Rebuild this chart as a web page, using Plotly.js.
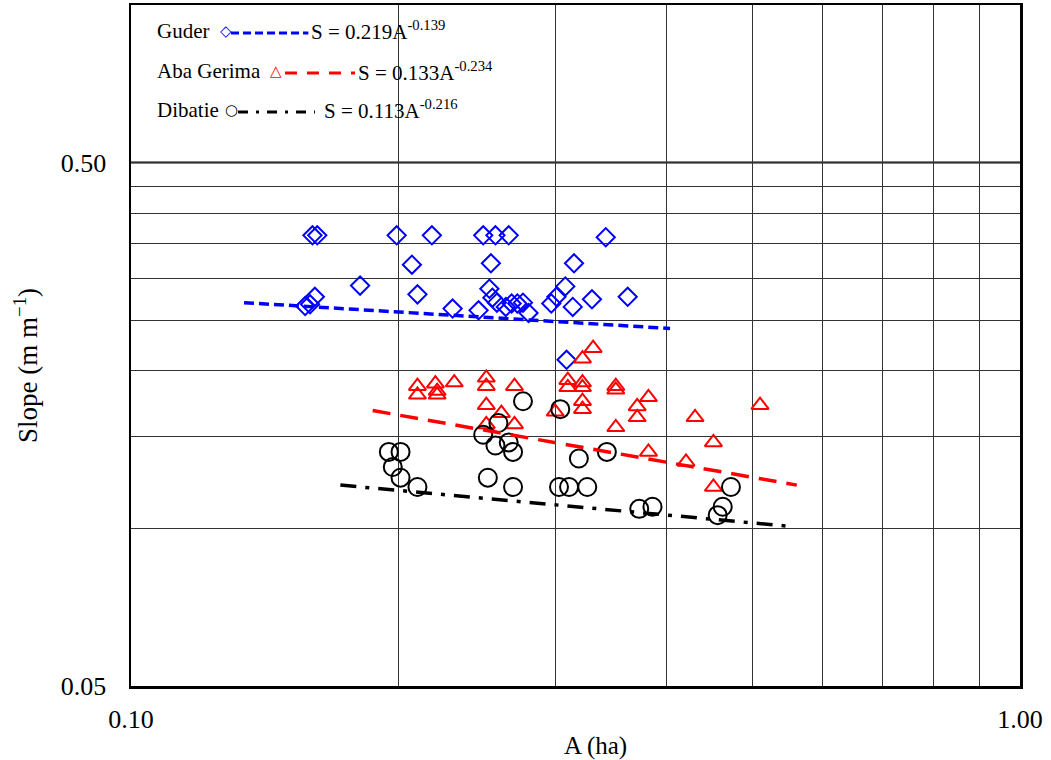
<!DOCTYPE html>
<html>
<head>
<meta charset="utf-8">
<script src="https://cdn.plot.ly/plotly-3.0.1.min.js"></script>
<style>html,body{margin:0;padding:0;background:#fff;}#chart{width:1051px;height:760px;}</style>
</head>
<body>
<div id="chart"></div>
<script>
// ---- Data ----
const guderA = [0.157,0.159,0.161,0.160,0.162,0.181,0.199,0.207,0.210,0.218,0.230,0.246,0.249,0.254,0.253,0.257,0.255,0.258,0.264,0.266,0.268,0.272,0.276,0.280,0.297,0.301,0.308,0.314,0.315,0.330,0.342,0.362,0.309];
const guderS = [0.266,0.268,0.277,0.363,0.363,0.291,0.363,0.319,0.280,0.363,0.263,0.261,0.363,0.321,0.287,0.363,0.276,0.270,0.265,0.363,0.269,0.269,0.270,0.258,0.269,0.277,0.290,0.265,0.321,0.274,0.360,0.277,0.210];

const abaA = [0.210,0.210,0.220,0.221,0.221,0.231,0.251,0.251,0.251,0.261,0.251,0.270,0.270,0.300,0.310,0.310,0.322,0.331,0.322,0.322,0.322,0.322,0.351,0.351,0.351,0.371,0.371,0.382,0.382,0.431,0.452,0.421,0.452,0.510];
const abaS = [0.187,0.180,0.189,0.183,0.180,0.190,0.194,0.187,0.172,0.166,0.158,0.187,0.158,0.167,0.192,0.186,0.211,0.221,0.190,0.186,0.175,0.169,0.187,0.184,0.156,0.171,0.163,0.178,0.140,0.163,0.146,0.134,0.120,0.172];

const dibA = [0.195,0.201,0.197,0.201,0.210,0.252,0.249,0.257,0.259,0.266,0.269,0.269,0.276,0.304,0.303,0.311,0.326,0.319,0.343,0.373,0.386,0.473,0.463,0.457];
const dibS = [0.140,0.140,0.131,0.125,0.120,0.125,0.151,0.144,0.159,0.146,0.140,0.120,0.175,0.169,0.120,0.120,0.120,0.136,0.140,0.109,0.110,0.120,0.110,0.106];

// Fitted trend lines (end points)
const guderFitA = [0.134, 0.404];
const guderFitS = [0.270, 0.241];
const abaFitA = [0.187, 0.561];
const abaFitS = [0.168, 0.121];
const dibFitA = [0.172, 0.548];
const dibFitS = [0.121, 0.101];

const seriesNames = ['Guder', 'Aba Gerima', 'Dibatie'];
const equations = ['S = 0.219A<sup>-0.139</sup>', 'S = 0.133A<sup>-0.234</sup>', 'S = 0.113A<sup>-0.216</sup>'];

const xTickVals = [0.1, 1.0];
const xTickText = ['0.10', '1.00'];
const xGridVals = [0.2,0.3,0.4,0.5,0.6,0.7,0.8,0.9];
const yTickVals = [0.05, 0.5];
const yTickText = ['0.05', '0.50'];
const yGridVals = [0.1,0.15,0.2,0.25,0.3,0.35,0.4,0.45];
const xTitle = 'A (ha)';
const yTitle = 'Slope (m m<sup>\u22121</sup>)';

// ---- Styles ----
const BLUE = '#0000FF', RED = '#FF0000', BLACK = '#000000';
const FONT = 'Liberation Serif, Times New Roman, serif';

const traces = [
  {x: guderA, y: guderS, type: 'scatter', mode: 'markers', name: seriesNames[0],
   marker: {symbol: 'diamond-open', size: 14, color: BLUE, line: {width: 2, color: BLUE}}},
  {x: abaA, y: abaS, type: 'scatter', mode: 'markers', name: seriesNames[1],
   marker: {symbol: 'triangle-up-open', size: 15, color: RED, line: {width: 2, color: RED}}},
  {x: dibA, y: dibS, type: 'scatter', mode: 'markers', name: seriesNames[2],
   marker: {symbol: 'circle-open', size: 18, color: BLACK, line: {width: 2, color: BLACK}}},
  {x: guderFitA, y: guderFitS, type: 'scatter', mode: 'lines', showlegend: false,
   line: {color: BLUE, width: 3.5, dash: '10px,5px'}},
  {x: abaFitA, y: abaFitS, type: 'scatter', mode: 'lines', showlegend: false,
   line: {color: RED, width: 3.5, dash: '18px,10px'}},
  {x: dibFitA, y: dibFitS, type: 'scatter', mode: 'lines', showlegend: false,
   line: {color: BLACK, width: 3.5, dash: '16px,9px,4px,9px'}}
];

// custom legend (paper coordinates)
const legRows = [
  {y: 0.962, name: seriesNames[0], glyph: '\u25C7', gx: 0.1069, color: BLUE, l0: 0.1125, l1: 0.1995, dash: '8px,4px', eq: equations[0], ex: 0.2002},
  {y: 0.903, name: seriesNames[1], glyph: '\u25B3', gx: 0.1631, color: RED, l0: 0.1732, l1: 0.2520, dash: '12px,10px', eq: equations[1], ex: 0.2531},
  {y: 0.846, name: seriesNames[2], glyph: '\u25CB', gx: 0.1125, color: BLACK, l0: 0.1204, l1: 0.2070, dash: '10px,8px,3px,8px', eq: equations[2], ex: 0.2148}
];

const annotations = [
  {xref: 'paper', yref: 'paper', x: 0.522, y: -0.088, xanchor: 'center', yanchor: 'middle',
   text: xTitle, showarrow: false, font: {family: FONT, size: 25, color: BLACK}},
  {xref: 'paper', yref: 'paper', x: -0.118, y: 0.47, xanchor: 'center', yanchor: 'middle', textangle: -90,
   text: yTitle, showarrow: false, font: {family: FONT, size: 27, color: BLACK}}
];
const shapes = [
  // thicker 0.50 grid line
  {type: 'line', xref: 'paper', yref: 'paper', x0: 0, x1: 1,
   y0: 1/1.30103, y1: 1/1.30103, line: {color: BLACK, width: 2}, layer: 'below'}
];
legRows.forEach(r => {
  annotations.push({xref: 'paper', yref: 'paper', x: 0.027, y: r.y, xanchor: 'left', yanchor: 'middle',
    text: r.name, showarrow: false, font: {family: FONT, size: 21, color: BLACK}});
  annotations.push({xref: 'paper', yref: 'paper', x: r.gx, y: r.y, xanchor: 'center', yanchor: 'middle',
    text: '<b>' + r.glyph + '</b>', showarrow: false, font: {family: 'DejaVu Sans', size: 15, color: r.color}});
  annotations.push({xref: 'paper', yref: 'paper', x: r.ex, y: r.y, xanchor: 'left', yanchor: 'middle',
    text: r.eq, showarrow: false, font: {family: FONT, size: 21, color: BLACK}});
  shapes.push({type: 'line', xref: 'paper', yref: 'paper', x0: r.l0, x1: r.l1, y0: r.y - 0.003, y1: r.y - 0.003,
    line: {color: r.color, width: 3, dash: r.dash}});
});

const layout = {
  width: 1051, height: 760,
  margin: {l: 131, r: 31, t: 5, b: 74},
  paper_bgcolor: '#fff', plot_bgcolor: '#fff',
  showlegend: false,
  font: {family: FONT, color: BLACK},
  xaxis: {
    type: 'log', range: [-1, 0],
    tickmode: 'array', tickvals: xTickVals, ticktext: xTickText,
    ticks: '', ticklabelstandoff: 8,
    tickfont: {family: FONT, size: 26, color: BLACK},
    showgrid: true, gridcolor: '#333', gridwidth: 1,
    minor: {tickmode: 'array', tickvals: xGridVals, showgrid: true, gridcolor: '#333', gridwidth: 1, ticks: ''},
    showline: true, linecolor: BLACK, linewidth: 2.5, mirror: true,
    zeroline: false
  },
  yaxis: {
    type: 'log', range: [Math.log10(0.05), 0],
    tickmode: 'array', tickvals: yTickVals, ticktext: yTickText,
    ticks: '', ticklabelstandoff: 17,
    tickfont: {family: FONT, size: 26, color: BLACK},
    showgrid: true, gridcolor: '#333', gridwidth: 1,
    minor: {tickmode: 'array', tickvals: yGridVals, showgrid: true, gridcolor: '#333', gridwidth: 1, ticks: ''},
    showline: true, linecolor: BLACK, linewidth: 2.5, mirror: true,
    zeroline: false
  },
  annotations: annotations,
  shapes: shapes
};

Plotly.newPlot('chart', traces, layout, {displayModeBar: false, staticPlot: true});
</script>
</body>
</html>
